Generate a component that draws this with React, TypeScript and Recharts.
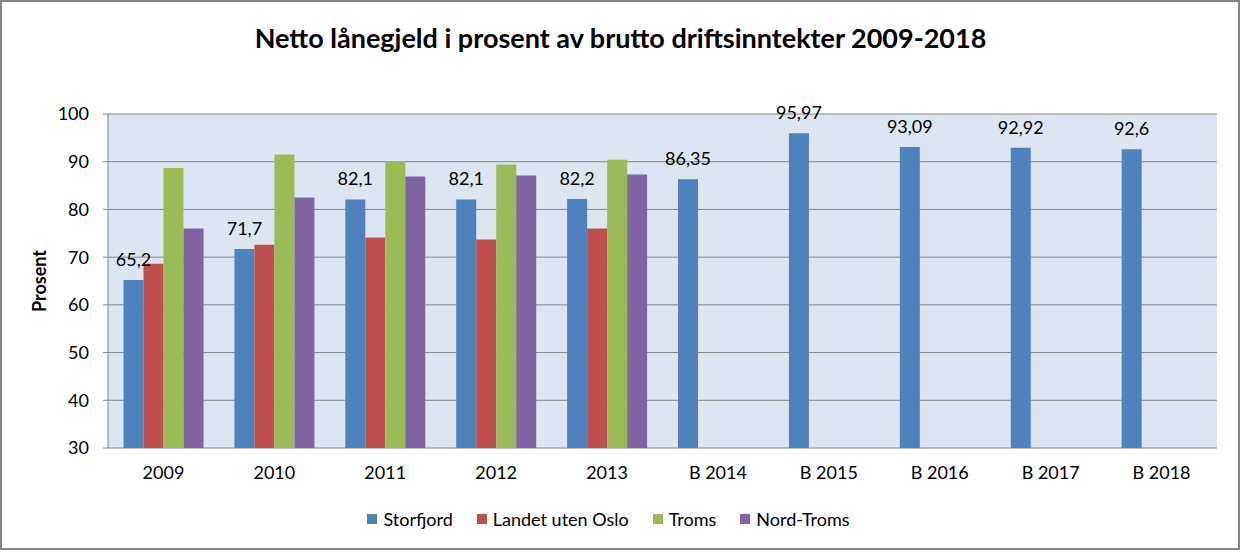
import React from 'react';
import { BarChart, Bar, XAxis, YAxis, CartesianGrid, Legend, LabelList } from 'recharts';

const categories = ['2009', '2010', '2011', '2012', '2013', 'B 2014', 'B 2015', 'B 2016', 'B 2017', 'B 2018'];
const storfjord = [65.2, 71.7, 82.1, 82.1, 82.2, 86.35, 95.97, 93.09, 92.92, 92.6];
const landetUtenOslo = [68.6, 72.6, 74.1, 73.7, 76.0, null, null, null, null, null];
const troms = [88.7, 91.5, 90.1, 89.4, 90.4, null, null, null, null, null];
const nordTroms = [76.0, 82.5, 86.9, 87.1, 87.3, null, null, null, null, null];
const yTicks = [30, 40, 50, 60, 70, 80, 90, 100];
const boundaryTicks = [0, 1, 2, 3, 4, 5, 6, 7, 8, 9, 10];

const seriesNames = ['Storfjord', 'Landet uten Oslo', 'Troms', 'Nord-Troms'];
const seriesKeys = ['storfjord', 'landet', 'troms', 'nordTroms'];
const seriesColors = ['#4F81BD', '#C0504D', '#9BBB59', '#8064A2'];

const title = 'Netto lånegjeld i prosent av brutto driftsinntekter 2009-2018';
const yLabel = 'Prosent';

const data = categories.map((c, i) => ({
  category: c,
  storfjord: storfjord[i],
  landet: landetUtenOslo[i],
  troms: troms[i],
  nordTroms: nordTroms[i],
}));

const FONT = "Lato, 'Liberation Sans', sans-serif";
const GRAY = '#868686';

const fmt = (v: any) => (v == null ? '' : String(v).replace('.', ','));

const LegendContent = () => (
  <div style={{ display: 'flex', justifyContent: 'center', alignItems: 'center', fontFamily: FONT, fontSize: 18, color: '#000' }}>
    {seriesNames.map((n, i) => (
      <div key={n} style={{ display: 'flex', alignItems: 'center', marginRight: i < seriesNames.length - 1 ? 24 : 0 }}>
        <span style={{ width: 10, height: 10, background: seriesColors[i], display: 'inline-block', marginRight: 6 }} />
        <span>{n}</span>
      </div>
    ))}
  </div>
);

export default function App() {
  return (
    <div style={{ position: 'absolute', left: 0, top: 0, width: 1241, height: 552, background: '#fff', fontFamily: FONT }}>
      <div
        style={{
          position: 'absolute', left: 0, top: 20, width: 1241, textAlign: 'center',
          fontWeight: 'bold', fontSize: 27, color: '#000', fontFamily: FONT, lineHeight: '36px',
        }}
      >
        {title}
      </div>
      <BarChart
        width={1241}
        height={552}
        data={data}
        margin={{ top: 114, right: 24, bottom: 14, left: 0 }}
        barCategoryGap="14%"
        barGap={0}
      >
        <CartesianGrid vertical={false} stroke={GRAY} fill="#DCE6F2" fillOpacity={1} />
        <XAxis
          xAxisId="bounds"
          type="number"
          domain={[0, 10]}
          ticks={boundaryTicks}
          allowDataOverflow
          height={0}
          tick={false}
          tickSize={7}
          stroke={GRAY}
          tickLine={{ stroke: GRAY }}
          axisLine={{ stroke: GRAY }}
        />
        <XAxis
          dataKey="category"
          height={60}
          axisLine={false}
          tickLine={false}
          tickSize={0}
          tickMargin={18}
          interval={0}
          tick={{ fill: '#000', fontSize: 18, fontFamily: FONT }}
        />
        <YAxis
          domain={[30, 100]}
          ticks={yTicks}
          width={108}
          tickSize={5}
          tickMargin={14}
          stroke={GRAY}
          axisLine={{ stroke: GRAY }}
          tickLine={{ stroke: GRAY }}
          tick={{ fill: '#000', fontSize: 18, fontFamily: FONT }}
          allowDataOverflow
          label={{
            value: yLabel,
            angle: -90,
            position: 'insideLeft',
            offset: 40,
            style: { textAnchor: 'middle', fontWeight: 'bold', fontSize: 18, fill: '#000', fontFamily: FONT },
          }}
        />
        <Legend verticalAlign="bottom" height={30} content={<LegendContent />} />
        {seriesKeys.map((k, i) => (
          <Bar key={k} dataKey={k} name={seriesNames[i]} fill={seriesColors[i]} isAnimationActive={false}>
            {i === 0 && (
              <LabelList
                dataKey={k}
                position="top"
                offset={14}
                formatter={fmt}
                style={{ fill: '#000', fontSize: 18, fontFamily: FONT }}
              />
            )}
          </Bar>
        ))}
      </BarChart>
      <div
        style={{
          position: 'absolute', left: 0, top: 0, width: 1240, height: 550,
          border: `2px solid ${GRAY}`, boxSizing: 'border-box', pointerEvents: 'none',
        }}
      />
    </div>
  );
}
